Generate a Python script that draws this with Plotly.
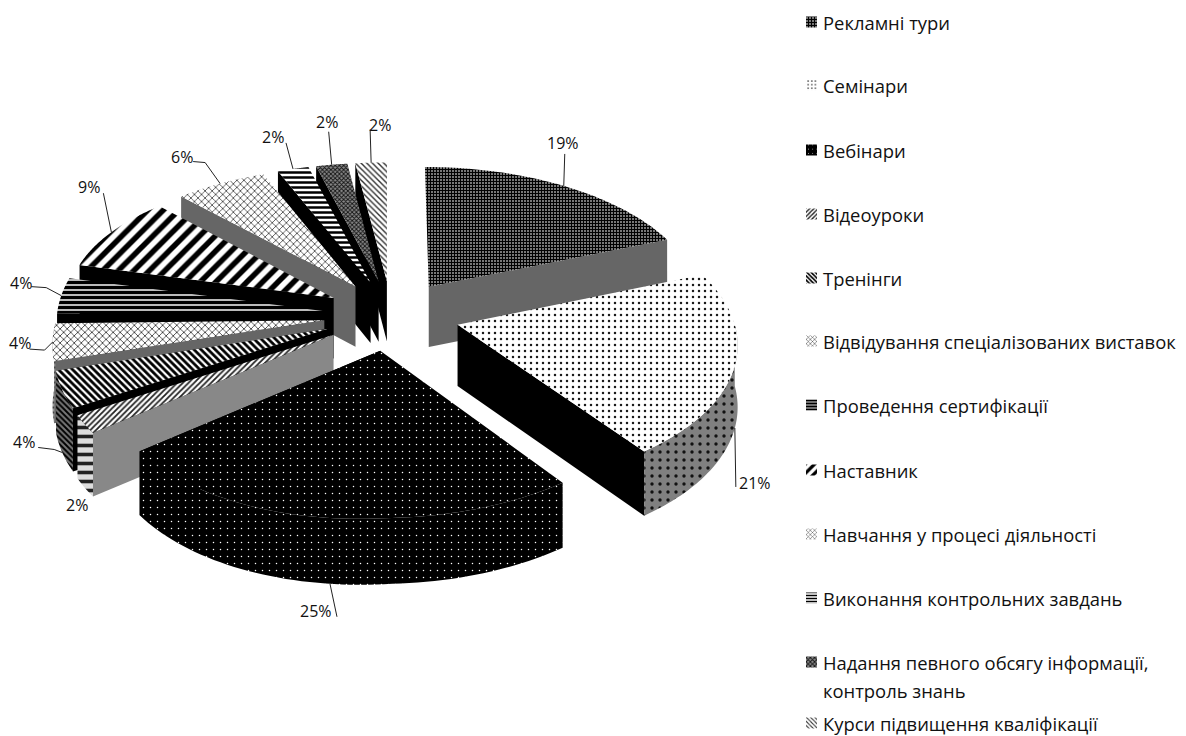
import numpy as np
import plotly.graph_objects as go

# Shares of training formats, percent, clockwise from twelve o'clock
categories = [
    "Рекламні тури", "Семінари", "Вебінари", "Відеоуроки", "Тренінги",
    "Відвідування спеціалізованих виставок", "Проведення сертифікації",
    "Наставник", "Навчання у процесі діяльності",
    "Виконання контрольних завдань",
    "Надання певного обсягу інформації,<br>контроль знань",
    "Курси підвищення кваліфікації",
]
shares = [19, 21, 25, 2, 4, 4, 4, 9, 6, 2, 2, 2]

# Fill styles: (shape, foreground, background, size, solidity)
top_styles = [
    ("+", "#000000", "#777777", 3, 0.55),
    (".", "#1a1a1a", "#ffffff", 6, 0.14),
    (".", "#ffffff", "#000000", 7, 0.035),
    ("/", "#222222", "#ffffff", 4, 0.45),
    ("\\", "#000000", "#ffffff", 5, 0.55),
    ("x", "#333333", "#ffffff", 5, 0.3),
    ("-", "#000000", "#bbbbbb", 5, 0.6),
    ("/", "#000000", "#ffffff", 11, 0.5),
    ("x", "#444444", "#ffffff", 5, 0.3),
    ("-", "#000000", "#ffffff", 5, 0.5),
    ("x", "#111111", "#888888", 3, 0.5),
    ("\\", "#333333", "#ffffff", 4, 0.35),
]
cut_colors = ["#666666", "#000000", "#000000", "#888888", "#000000", "#666666",
              "#000000", "#000000", "#666666", "#000000", "#000000", "#000000"]
side_styles = {
    1: (".", "#111111", "#808080", 8, 0.14),
    2: (".", "#ffffff", "#000000", 7, 0.035),
    3: ("-", "#222222", "#dddddd", 9, 0.4),
    4: ("\\", "#000000", "#777777", 4, 0.5),
    5: ("-", "#444444", "#999999", 5, 0.4),
    6: ("-", "#000000", "#777777", 5, 0.4),
    7: ("-", "#000000", "#777777", 5, 0.4),
}

# Drawing order, back to front, so that nearer slices overlap further ones
draw_order = [11, 10, 9, 8, 7, 6, 5, 4, 3, 0, 1, 2]

# Projection of the tilted disc on the page
CX, CY = 391, 315
RX_RIGHT, RX_LEFT, RX_LEFT_BACK, RY = 275, 268, 17, 139.6
PERSPECTIVE = 0.1145
SAG = 7
EXPLODE = 0.25
DEPTH = 61


def project(wx, wy):
    w = 1 / (1 + PERSPECTIVE * wy)
    rx = RX_RIGHT if wx >= 0 else RX_LEFT + RX_LEFT_BACK * max(0.0, wy)
    sag = SAG * max(0.0, -wx) * max(0.0, 0.4 - wy)
    return CX + rx * wx * w, CY - RY * wy * w + sag, w


def slice_point(index, theta):
    """Page position of a rim point of a slice; angles run clockwise from the top."""
    mid = np.radians(starts[index] + sweeps[index] / 2)
    ox, oy = EXPLODE * np.sin(mid), EXPLODE * np.cos(mid)
    t = np.radians(theta)
    return project(ox + np.sin(t), oy + np.cos(t))


def apex(index):
    mid = np.radians(starts[index] + sweeps[index] / 2)
    return project(EXPLODE * np.sin(mid), EXPLODE * np.cos(mid))


def below(y, w, share=1.0):
    return y + DEPTH * np.sqrt(w) * share


def pattern(style):
    shape, fg, bg, size, solidity = style
    return dict(shape=shape, fgcolor=fg, bgcolor=bg, size=size,
                solidity=solidity, fillmode="replace")


def add_solid(fig, xs, ys, color, name):
    fig.add_trace(go.Scatter(x=xs, y=ys, mode="none", fill="toself",
                             fillcolor=color, name=name, hoverinfo="skip"))


def add_patterned(fig, xs, ys, style, name):
    fig.add_trace(go.Scatter(x=xs, y=ys, mode="none", fill="toself",
                             fillcolor=style[2], fillpattern=pattern(style),
                             name=name, hoverinfo="skip"))


sweeps = [s * 3.6 for s in shares]
starts = list(np.cumsum([0] + sweeps[:-1]))

fig = go.Figure()

for i in draw_order:
    name = categories[i].replace("<br>", " ")
    a0, a1 = starts[i], starts[i] + sweeps[i]
    ax, ay, aw = apex(i)

    # Radial cut facing the viewer: trailing edge on the right, leading edge on the left
    cut_angle = a1 if i < 3 else a0
    ex, ey, ew = slice_point(i, cut_angle)
    add_solid(fig,
              [ax, ex, ex, ax, ax],
              [ay, ey, below(ey, ew), below(ay, aw), ay],
              cut_colors[i], name)

    # Outer wall, only along the near half of the rim
    v0, v1 = max(a0, 90), min(a1, 270)
    if v1 > v0 and i in side_styles:
        th = np.linspace(v0, v1, 60)
        px, py, pw = zip(*(slice_point(i, t) for t in th))
        px, py, pw = np.array(px), np.array(py), np.array(pw)
        add_patterned(fig,
                      np.concatenate([px, px[::-1]]),
                      np.concatenate([py, below(py, pw)[::-1]]),
                      side_styles[i], name)

    # Top face
    th = np.linspace(a0, a1, 60)
    px, py, _ = zip(*(slice_point(i, t) for t in th))
    add_patterned(fig, [ax, *px, ax], [ay, *py, ay], top_styles[i], name)

# Value labels with leader lines: offsets are measured from each slice's rim midpoint
label_offsets = [(-1, -43), (20, 55), (-14, 27), (-8, 21), (-38, -10), (-33, 1),
                 (-40, -13), (-22, -45), (-38, -27), (-20, -32), (-5, -43), (9, -38)]
leader_paths = [
    [(1, -32)],
    [(1, 59)],
    [(7, 33)],
    [],
    [(-8, -3), (-24, -5)],
    [(-8, 8), (-23, 7)],
    [(-15, -8), (-30, -9)],
    [(-8, -39)],
    [(-15, -21), (-27, -22)],
    [(-7, -26)],
    [(-3, -33)],
    [(-1, -33)],
]
wall_fraction = [0, 1, 1, 0.95, 1, 0, 0, 0, 0, 0, 0, 0]

for i, share in enumerate(shares):
    rx, ry, rw = slice_point(i, starts[i] + sweeps[i] / 2)
    ry = below(ry, rw, wall_fraction[i])
    path = leader_paths[i]
    if path:
        fig.add_trace(go.Scatter(
            x=[rx] + [rx + dx for dx, _ in path],
            y=[ry] + [ry + dy for _, dy in path],
            mode="lines", line=dict(color="#222222", width=1),
            hoverinfo="skip", name=f"{share}%"))
    fig.add_annotation(x=rx + label_offsets[i][0], y=ry + label_offsets[i][1],
                       text=f"{share}%", showarrow=False,
                       font=dict(family="Open Sans", size=16, color="#111111"))

# Legend column: a small swatch in each slice's fill, followed by its name
legend_rows = [22, 85, 150, 214, 278, 341, 405, 470, 534, 598, 662, 723]
LINE_GAP = 28
SWATCH_X, SWATCH = 806, 11
for i, row in enumerate(legend_rows):
    style = list(top_styles[i])
    style[3] = max(3, style[3] * 0.6)
    x0, y0 = SWATCH_X, row - SWATCH / 2
    add_patterned(fig,
                  [x0, x0 + SWATCH, x0 + SWATCH, x0, x0],
                  [y0, y0, y0 + SWATCH, y0 + SWATCH, y0],
                  tuple(style), categories[i].replace("<br>", " "))
    for n, line in enumerate(categories[i].split("<br>")):
        fig.add_annotation(x=821, y=row + n * LINE_GAP, xanchor="left",
                           yanchor="middle", align="left", text=line, showarrow=False,
                           font=dict(family="Open Sans", size=18.4, color="#111111"))

fig.update_layout(
    width=1186, height=736, autosize=False,
    margin=dict(l=0, r=0, t=0, b=0),
    paper_bgcolor="white", plot_bgcolor="white",
    showlegend=False,
    xaxis=dict(range=[0, 1186], visible=False, fixedrange=True),
    yaxis=dict(range=[736, 0], visible=False, fixedrange=True),
)

fig.write_html("out.html", config=dict(displayModeBar=False))
